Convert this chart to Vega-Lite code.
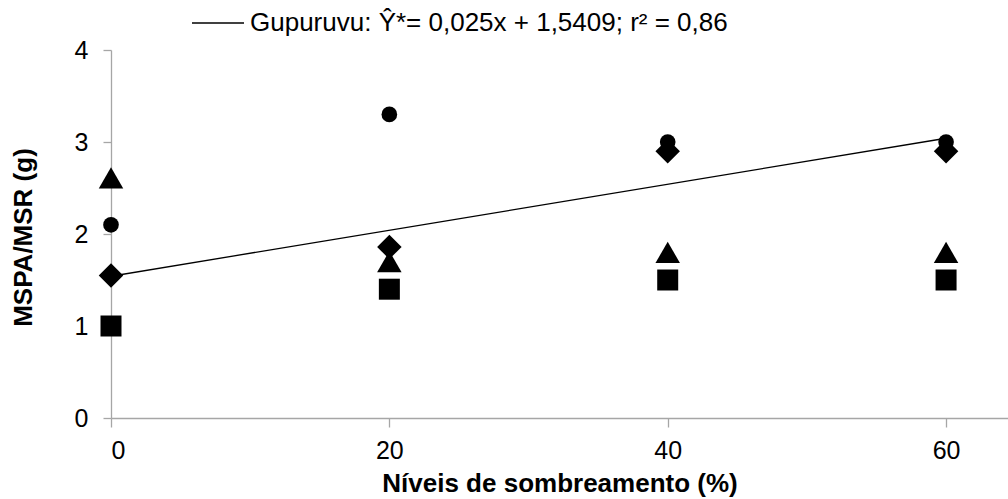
{
  "$schema": "https://vega.github.io/schema/vega-lite/v6.json",
  "width": 897,
  "height": 368,
  "autosize": {"type": "none"},
  "padding": {"left": 111, "top": 50, "right": 0, "bottom": 81},
  "background": "white",
  "config": {
    "view": {"stroke": null},
    "font": "Liberation Sans",
    "axis": {
      "grid": false,
      "domainColor": "#a6a6a6",
      "domainWidth": 1.3,
      "tickColor": "#a6a6a6",
      "tickWidth": 1.3,
      "labelFont": "Liberation Sans",
      "labelFontSize": 25,
      "labelColor": "#000000",
      "titleFont": "Liberation Sans",
      "titleFontSize": 26,
      "titleFontWeight": "bold",
      "titleColor": "#000000"
    }
  },
  "layer": [
    {
      "data": {
        "values": [
          {"nivel": 0, "valor": 2.1, "serie": "Espécie 1"},
          {"nivel": 20, "valor": 3.3, "serie": "Espécie 1"},
          {"nivel": 40, "valor": 3.0, "serie": "Espécie 1"},
          {"nivel": 60, "valor": 3.0, "serie": "Espécie 1"},
          {"nivel": 0, "valor": 2.61, "serie": "Espécie 3"},
          {"nivel": 20, "valor": 1.7, "serie": "Espécie 3"},
          {"nivel": 40, "valor": 1.8, "serie": "Espécie 3"},
          {"nivel": 60, "valor": 1.8, "serie": "Espécie 3"},
          {"nivel": 0, "valor": 1.0, "serie": "Espécie 4"},
          {"nivel": 20, "valor": 1.4, "serie": "Espécie 4"},
          {"nivel": 40, "valor": 1.5, "serie": "Espécie 4"},
          {"nivel": 60, "valor": 1.5, "serie": "Espécie 4"},
          {"nivel": 0, "valor": 1.55, "serie": "Gupuruvu"},
          {"nivel": 20, "valor": 1.86, "serie": "Gupuruvu"},
          {"nivel": 40, "valor": 2.9, "serie": "Gupuruvu"},
          {"nivel": 60, "valor": 2.9, "serie": "Gupuruvu"}
        ]
      },
      "mark": {"type": "point", "filled": true, "opacity": 1, "color": "#000000"},
      "encoding": {
        "x": {
          "field": "nivel",
          "type": "quantitative",
          "scale": {"domain": [0, 64.45], "nice": false, "zero": false},
          "axis": {
            "values": [0, 20, 40, 60],
            "format": "d",
            "title": "Níveis de sombreamento (%)",
            "tickSize": 9,
            "labelPadding": 11,
            "titleX": 448.5,
            "titleY": 73,
            "titleBaseline": "alphabetic",
            "titleAnchor": "middle"
          }
        },
        "y": {
          "field": "valor",
          "type": "quantitative",
          "scale": {"domain": [0, 4], "nice": false},
          "axis": {
            "values": [0, 1, 2, 3, 4],
            "format": "d",
            "title": "MSPA/MSR (g)",
            "tickSize": 8,
            "labelPadding": 15,
            "titleAngle": -90,
            "titleX": -80,
            "titleY": 187,
            "titleBaseline": "alphabetic",
            "titleAlign": "center"
          }
        },
        "shape": {
          "field": "serie",
          "type": "nominal",
          "scale": {
            "domain": ["Espécie 1", "Espécie 3", "Espécie 4", "Gupuruvu"],
            "range": ["circle", "triangle-up", "square", "diamond"]
          },
          "legend": null
        },
        "size": {
          "field": "serie",
          "type": "nominal",
          "scale": {
            "type": "ordinal",
            "domain": ["Espécie 1", "Espécie 3", "Espécie 4", "Gupuruvu"],
            "range": [245, 600, 441, 600]
          },
          "legend": null
        }
      }
    },
    {
      "data": {
        "values": [
          {"nivel": 0, "valor": 1.5409, "rotulo": "Gupuruvu: Ŷ*= 0,025x + 1,5409; r² = 0,86"},
          {"nivel": 60, "valor": 3.0409, "rotulo": "Gupuruvu: Ŷ*= 0,025x + 1,5409; r² = 0,86"}
        ]
      },
      "mark": {"type": "line", "strokeWidth": 1.3},
      "encoding": {
        "x": {"field": "nivel", "type": "quantitative"},
        "y": {"field": "valor", "type": "quantitative"},
        "stroke": {
          "field": "rotulo",
          "type": "nominal",
          "scale": {"range": ["#000000"]},
          "legend": {
            "title": null,
            "orient": "none",
            "legendX": 80,
            "legendY": -54,
            "padding": 0,
            "symbolType": "stroke",
            "symbolSize": 2704,
            "symbolStrokeWidth": 1.3,
            "labelOffset": 5,
            "labelFont": "Liberation Sans",
            "labelFontSize": 26,
            "labelColor": "#000000",
            "labelLimit": 800
          }
        }
      }
    }
  ]
}
